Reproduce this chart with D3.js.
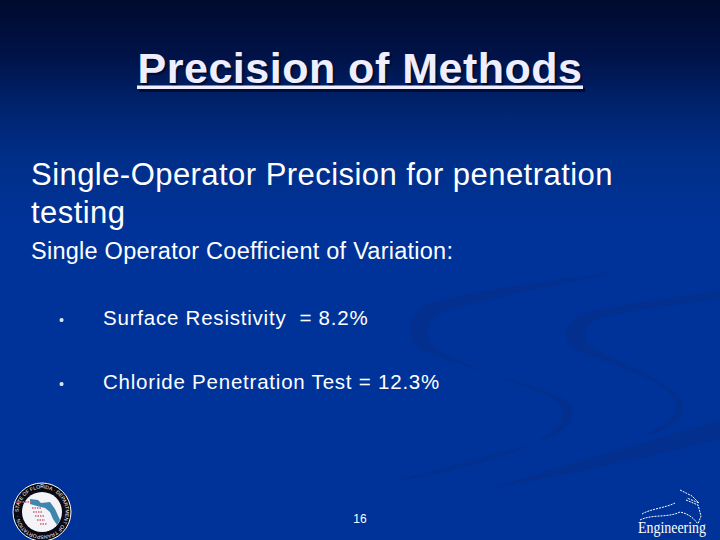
<!DOCTYPE html>
<html><head><meta charset="utf-8">
<script src="https://cdn.jsdelivr.net/npm/d3@7"></script>
<style>html,body{margin:0;padding:0;background:#003399}svg{display:block}text{font-family:"Liberation Sans",Arial,sans-serif}</style>
</head><body><svg id="c" width="720" height="540"></svg>
<script>
const titleText = "Precision of Methods";
const headingLines = ["Single-Operator Precision for penetration", "testing"];
const subheading = "Single Operator Coefficient of Variation:";
const bulletLabels = ["Surface Resistivity  = 8.2%", "Chloride Penetration Test = 12.3%"];
const pageNumber = "16";
const sealText = "STATE OF FLORIDA · DEPARTMENT OF TRANSPORTATION ·";

const svg = d3.select("#c");
const defs = svg.append("defs");
const g = defs.append("linearGradient").attr("id","bg").attr("x1",0).attr("y1",0).attr("x2",0).attr("y2",1);
[[0,"#000a2e"],[0.1,"#001247"],[0.2,"#00246f"],[0.3,"#002f8a"],[0.42,"#003399"],[1,"#003399"]]
  .forEach(([o,c])=>g.append("stop").attr("offset",o).attr("stop-color",c));
svg.append("rect").attr("width",720).attr("height",540).attr("fill","url(#bg)");

// background swooshes
const sw = svg.append("g").attr("fill","#032f8e");
sw.append("path").attr("d","M615,272 C540,282 465,292 428,304 C408,314 405,332 418,348 C460,368 545,385 568,402 C578,414 572,428 548,438 C510,452 440,468 392,482 C450,472 520,456 552,432 C566,420 566,408 552,398 C520,382 470,368 436,350 C424,338 424,322 442,312 C490,298 560,285 615,272Z");
sw.append("path").attr("d","M720,291 C680,298 610,304 578,316 C562,326 562,340 576,350 C610,364 660,378 674,398 C682,414 664,428 640,436 C668,432 692,416 680,398 C664,378 615,362 590,346 C580,336 584,324 600,318 C640,308 690,304 720,298Z");
sw.append("path").attr("d","M720,420 C650,442 560,465 488,490 C560,475 650,458 720,438Z");

// title
svg.append("rect").attr("x",139).attr("y",88).attr("width",446).attr("height",4).attr("fill","#000c33");
svg.append("rect").attr("x",137).attr("y",85.5).attr("width",446).attr("height",3.5).attr("fill","#eeeeff");
svg.append("text").attr("x",360).attr("y",83).attr("text-anchor","middle")
  .attr("font-size",43).attr("font-weight","bold").attr("letter-spacing",0.5).attr("fill","#eeeeff")
  .style("text-shadow","2px 2px 1px #000c33").text(titleText);

// body
svg.selectAll("text.h").data(headingLines).join("text").attr("class","h")
  .attr("x",31).attr("y",(d,i)=>185+i*38).attr("font-size",31).attr("letter-spacing",0.45).attr("fill","#fff").text(d=>d);
svg.append("text").attr("x",31).attr("y",259).attr("font-size",23.5).attr("letter-spacing",0.25).attr("fill","#fff").text(subheading);
const rowY = d3.scalePoint().domain(bulletLabels).range([325,389]);
svg.selectAll("text.b").data(bulletLabels).join("text").attr("class","b")
  .attr("x",103).attr("y",d=>rowY(d)).attr("font-size",20.5).attr("letter-spacing",0.78).attr("fill","#fff").style("white-space","pre").text(d=>d);
svg.selectAll("text.d").data(bulletLabels).join("text").attr("class","d")
  .attr("x",59).attr("y",d=>rowY(d)).attr("font-size",14).attr("fill","#dfe6f5").text("•");
svg.append("text").attr("x",360).attr("y",523).attr("text-anchor","middle").attr("font-size",12).attr("fill","#fff").text(pageNumber);

// seal
const s = svg.append("g").attr("transform","translate(42,512)");
s.append("circle").attr("r",29).attr("fill","#0a0a14").attr("stroke","#ffffff").attr("stroke-width",1);
s.append("circle").attr("r",20).attr("fill","#f4f4f8");
defs.append("path").attr("id","ring").attr("d","M-23.5,0A23.5,23.5 0 1,1 23.5,0A23.5,23.5 0 1,1 -23.5,0");
s.append("text").attr("font-size",5).attr("fill","#fff").append("textPath").attr("href","#ring").text(sealText);
s.append("path").attr("fill","#3f86ad").attr("d","M-12,-13 L-4,-12 L-1,-9 L8,-10 L13,-3 L18,8 L15,13 L11,7 L8,0 L3,-4 L-5,-6 L-12,-8Z");
s.append("path").attr("fill","none").attr("stroke","#c9607a").attr("stroke-width",1.6).attr("stroke-dasharray","1.5 1").attr("d","M-27,-10 L-10,-10 M-10,-4 L-1,-4 M-9,0 L0,0 M-7,4 L2,4 M-5,8 L3,8 M-2,12 L5,12");

// engineering mark
const e = svg.append("g").attr("fill","none").attr("stroke","#fff").attr("stroke-width",1).attr("stroke-dasharray","2 1");
e.append("path").attr("d","M680,490 L692,496 L699,503 L687,498 M686,500 L698,505 L701,516 L698,524");
e.append("path").attr("d","M642,514 C650,509 665,508 675,503 M640,520 C652,514 668,518 680,512 C690,514 695,520 698,524");
svg.append("text").attr("x",638).attr("y",533).attr("textLength",68).attr("lengthAdjust","spacingAndGlyphs")
  .style("font-family","'Liberation Serif',serif").attr("font-size",16).attr("fill","#fff").text("Engineering");
</script></body></html>
